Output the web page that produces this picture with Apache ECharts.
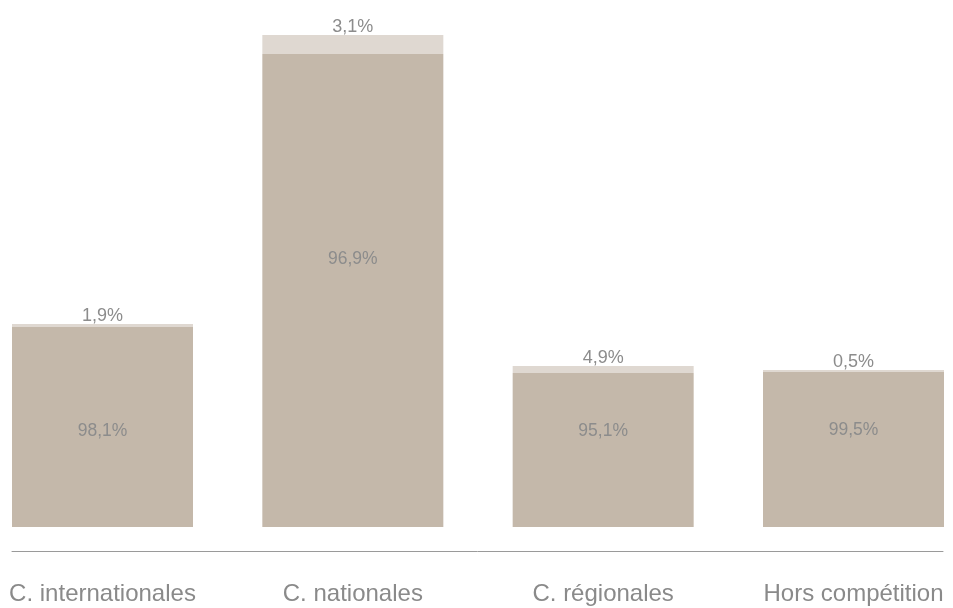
<!DOCTYPE html>
<html>
<head>
<meta charset="utf-8">
<style>
html,body{margin:0;padding:0;background:#fff;}
#chart{width:953px;height:608px;}
</style>
<script src="https://cdn.jsdelivr.net/npm/echarts@6/dist/echarts.min.js"></script>
</head>
<body>
<div id="chart"></div>
<script>
const categories = ['C. internationales', 'C. nationales', 'C. régionales', 'Hors compétition'];
const mainValues = [200, 473, 154, 155];
const topValues = [3, 19, 7, 2];
const mainLabels = ['98,1%', '96,9%', '95,1%', '99,5%'];
const topLabels = ['1,9%', '3,1%', '4,9%', '0,5%'];
const mainLabelOffsets = [4, -31, -19, -19];

const FONT = '"Liberation Sans", Arial, Helvetica, sans-serif';
const chart = echarts.init(document.getElementById('chart'));
chart.setOption({
  animation: false,
  grid: [
    {left: 102.5, right: 99.5, top: 35, bottom: 81},
    {left: 12, right: 10, top: 550, bottom: 57}
  ],
  xAxis: [
    {
      type: 'category', data: categories, gridIndex: 0, boundaryGap: false,
      axisLine: {show: false}, axisTick: {show: false}, splitLine: {show: false},
      axisLabel: {color: '#8a8a8a', fontSize: 24, fontFamily: FONT, margin: 55}
    },
    {
      type: 'category', data: [''], gridIndex: 1,
      axisLine: {show: true, lineStyle: {color: '#9a9a9a', width: 1}},
      axisTick: {show: false}, axisLabel: {show: false}
    }
  ],
  yAxis: [
    {type: 'value', gridIndex: 0, min: 0, max: 492, show: false},
    {type: 'value', gridIndex: 1, show: false}
  ],
  series: [
    {
      type: 'bar', stack: 'total', barWidth: 181, clip: false,
      itemStyle: {color: '#c4b8aa'},
      data: mainValues.map((v, i) => ({
        value: v,
        label: {
          show: true, position: 'inside', offset: [0, mainLabelOffsets[i]],
          formatter: mainLabels[i], color: '#8c8c8c', fontSize: 17.5, fontFamily: FONT
        }
      }))
    },
    {
      type: 'bar', stack: 'total', barWidth: 181, clip: false,
      itemStyle: {color: '#dfd8d1'},
      data: topValues.map((v, i) => ({
        value: v,
        label: {
          show: true, position: 'top', distance: -1,
          formatter: topLabels[i], color: '#8c8c8c', fontSize: 18, fontFamily: FONT
        }
      }))
    }
  ]
});
</script>
</body>
</html>
